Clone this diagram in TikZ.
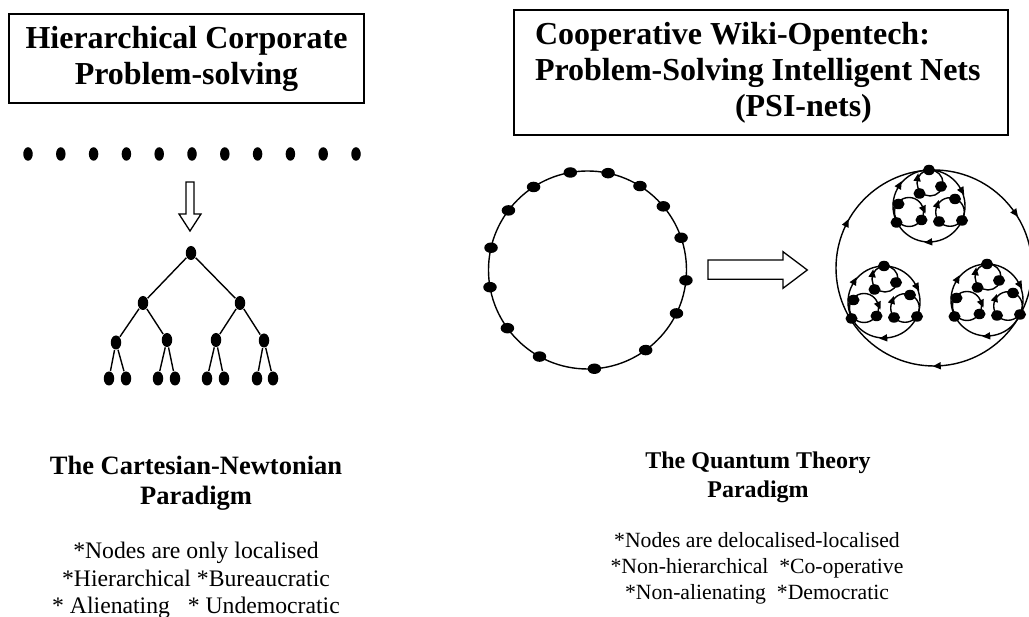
\documentclass[tikz,border=0pt]{standalone}
\usepackage{fontspec}
\setmainfont{Liberation Serif}
\usetikzlibrary{arrows.meta,calc,decorations.markings,shapes.geometric}
\tikzset{%
	titlebox/.style = {draw, line width=1.6pt, rectangle, inner sep=0pt, font=\fontsize{32}{36}\selectfont\bfseries},
	headtext/.style = {anchor=north, align=center, inner sep=0pt},
	rowdot/.style   = {draw=none, fill, ellipse, inner sep=0pt, minimum width=9.5pt, minimum height=13.5pt},
	treedot/.style  = {rowdot, minimum width=10.5pt, minimum height=14pt},
	ringdot/.style  = {rowdot, minimum width=13.5pt, minimum height=10.5pt},
	netdot/.style   = {rowdot, minimum width=12pt, minimum height=10.5pt},
	cw/.style       = {postaction={decorate, decoration={markings, mark=at position #1 with {\arrow{Triangle[reversed,length=8pt,width=7pt]}}}}},
	hollow/.style   = {draw, line width=1.3pt, line join=miter, fill=white},
	psicell/.pic    = {
		\draw[cw=0.083, cw=0.417, cw=0.764] (0,0) circle (36);
		\draw[cw=0.478] (1,23) circle (13);
		\draw[cw=0.064] (-20,-6) circle (14.5);
		\draw[cw=0.45] (21,-6) circle (14.3);
		\foreach \x/\y [count=\i] in {0/36, 12/19.5, -9.5/12.5, -30.5/2, -32.5/-16.5, -7.5/-14, 10/-15.5, 26/7, 33/-14.5}
			\node[netdot] (-d\i) at (\x,\y) {};
	},
}

\begin{document}
\begin{tikzpicture}[x=1pt, y=1pt, line width=1.4pt]
	\useasboundingbox (0,0) rectangle (1029,617);
	\clip (0,0) rectangle (1029,617);

	% left: hierarchy
	\node[titlebox, minimum width=355pt, minimum height=89pt, align=center] (hcbox) at (186.5,558.5) {Hierarchical Corporate\\Problem-solving};

	\foreach \i in {0,...,10}
		\node[rowdot] (row\i) at (28+32.8*\i,463) {};

	\draw[hollow] (186,435) -- (194,435) -- (194,403) -- (201,403) -- (190,386) -- (179,403) -- (186,403) -- cycle;

	\node[treedot] (root) at (191,364) {};
	\node[treedot] (l) at (143,314) {};
	\node[treedot] (r) at (240,314) {};
	\node[treedot] (ll) at (116,274.5) {};
	\node[treedot] (lr) at (167,277) {};
	\node[treedot] (rl) at (216,277) {};
	\node[treedot] (rr) at (264,276.5) {};
	\foreach \n/\x in {lla/109, llb/126, lra/158, lrb/175, rla/207, rlb/224, rra/257, rrb/273}
		\node[treedot] (\n) at (\x,238.5) {};
	\foreach \a/\b in {root/l, root/r, l/ll, l/lr, r/rl, r/rr, ll/lla, ll/llb, lr/lra, lr/lrb, rl/rla, rl/rlb, rr/rra, rr/rrb}
		\draw (\a) -- (\b);

	\node[headtext, font=\fontsize{26.5}{30}\selectfont\bfseries] (cntitle) at (196,162) {The Cartesian-Newtonian\\Paradigm};
	\node[headtext, font=\fontsize{23.7}{27.5}\selectfont] (cnlist) at (196,75.2) {*Nodes are only localised\\*Hierarchical *Bureaucratic\\* Alienating\ \ \ * Undemocratic};

	% right: PSI-nets
	\node[titlebox, text width=452pt, inner xsep=21pt, minimum height=125pt, align=flush left] (psibox) at (761,544.5) {Cooperative Wiki-Opentech:\\Problem-Solving Intelligent Nets\\\hspace*{200pt}(PSI-nets)};

	\coordinate (ringc) at (587.5,347);
	\draw (ringc) circle (99);
	\foreach \a [count=\i] in {100,78,58,40,19,-6,-26,-54,-86,-119,-144,-170,167,143,123}
		\node[ringdot] (ring\i) at ($(ringc)+(\a:99)$) {};

	\draw[hollow] (708,357) -- (783,357) -- (783,365.3) -- (807.3,347) -- (783,328.7) -- (783,337.7) -- (708,337.7) -- cycle;

	\coordinate (netc) at (934,349);
	\draw[cw=0.1, cw=0.43, cw=0.761] (netc) circle (98);
	\pic (topcell) at (929,411) {psicell};
	\pic (leftcell) at (884,315) {psicell};
	\pic (rightcell) at (987,317) {psicell};

	\node[headtext, font=\fontsize{24}{29}\selectfont\bfseries] (qttitle) at (758,165.4) {The Quantum Theory\\Paradigm};
	\node[headtext, font=\fontsize{21.7}{26}\selectfont] (qtlist) at (757,84.8) {*Nodes are delocalised-localised\\*Non-hierarchical\ \ *Co-operative\\*Non-alienating\ \ *Democratic};
\end{tikzpicture}
\end{document}
